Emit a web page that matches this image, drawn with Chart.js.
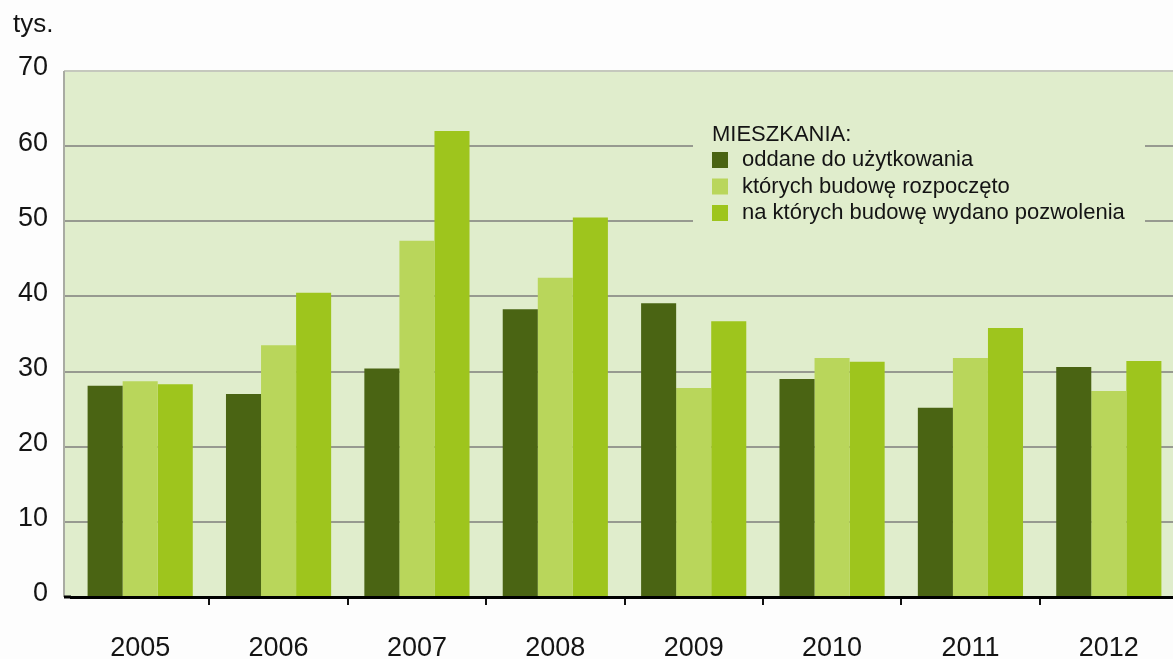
<!DOCTYPE html>
<html>
<head>
<meta charset="utf-8">
<script src="https://cdn.jsdelivr.net/npm/chart.js@4"></script>
<style>
  html, body { margin: 0; padding: 0; background: #fdfdfd; overflow: hidden; }
  #wrap { width: 1185px; height: 659px; }
</style>
</head>
<body>
<div id="wrap"><canvas id="myChart" width="1185" height="659"></canvas></div>
<script>
// data (thousands)
const years = ['2005', '2006', '2007', '2008', '2009', '2010', '2011', '2012'];
const oddane = [28.1, 27.0, 30.4, 38.3, 39.1, 29.0, 25.2, 30.6];
const rozpoczete = [28.7, 33.5, 47.4, 42.5, 27.8, 31.8, 31.8, 27.4];
const pozwolenia = [28.3, 40.5, 62.0, 50.5, 36.7, 31.3, 35.8, 31.4];
const yTicks = [0, 10, 20, 30, 40, 50, 60, 70];

const seriesNames = ['oddane do użytkowania', 'których budowę rozpoczęto', 'na których budowę wydano pozwolenia'];
const colors = ['#4a6413', '#b9d65b', '#9ec51d'];

const FONT = "'Liberation Sans', Arial, sans-serif";
const textCol = '#141414';
const plotBg = '#e0edcc';
const gridCol = '#979a90';

// background, left border and little grid stubs left of the chart area
const backdrop = {
  id: 'backdrop',
  beforeDraw(chart) {
    const { ctx, chartArea: a, scales: { y } } = chart;
    const left = 64;
    ctx.save();
    ctx.fillStyle = plotBg;
    ctx.fillRect(left, a.top, chart.width - left, a.bottom - a.top);
    ctx.strokeStyle = gridCol;
    ctx.lineWidth = 2;
    yTicks.forEach(v => {
      if (v === 0 || v === 70) return;
      const py = Math.round(y.getPixelForValue(v));
      ctx.beginPath();
      ctx.moveTo(left, py);
      ctx.lineTo(a.left, py);
      ctx.stroke();
    });
    // top + left border
    ctx.strokeStyle = '#c5c8bd';
    ctx.beginPath();
    ctx.moveTo(left, a.top);
    ctx.lineTo(chart.width, a.top);
    ctx.stroke();
    ctx.strokeStyle = '#a9aba3';
    ctx.beginPath();
    ctx.moveTo(left, a.top);
    ctx.lineTo(left, a.bottom);
    ctx.stroke();
    // unit label
    ctx.fillStyle = textCol;
    ctx.font = '26px ' + FONT;
    ctx.textBaseline = 'alphabetic';
    ctx.fillText('tys.', 13, 32);
    ctx.restore();
  },
  afterDraw(chart) {
    const { ctx, chartArea: a } = chart;
    ctx.save();
    ctx.strokeStyle = '#000';
    ctx.lineWidth = 3;
    ctx.beginPath();
    ctx.moveTo(64, a.bottom);
    ctx.lineTo(a.left, a.bottom);
    ctx.stroke();
    ctx.restore();
  }
};

// legend box in the top right of the plot
const boxLegend = {
  id: 'boxLegend',
  afterDatasetsDraw(chart) {
    const ctx = chart.ctx;
    ctx.save();
    ctx.fillStyle = plotBg;
    ctx.fillRect(693, 110, 452, 122);
    ctx.fillStyle = textCol;
    ctx.font = '22px ' + FONT;
    ctx.textBaseline = 'middle';
    ctx.fillText('MIESZKANIA:', 712, 135);
    chart.data.datasets.forEach((ds, i) => {
      const cy = 160 + i * 26.5;
      ctx.fillStyle = ds.backgroundColor;
      ctx.fillRect(712, cy - 8, 16, 16);
      ctx.fillStyle = textCol;
      ctx.fillText(ds.label, 742, cy);
    });
    ctx.restore();
  }
};

const ctx = document.getElementById('myChart').getContext('2d');
const myChart = new Chart(ctx, {
  type: 'bar',
  data: {
    labels: years,
    datasets: [
      { label: seriesNames[0], data: oddane, backgroundColor: colors[0] },
      { label: seriesNames[1], data: rozpoczete, backgroundColor: colors[1] },
      { label: seriesNames[2], data: pozwolenia, backgroundColor: colors[2] }
    ]
  },
  options: {
    responsive: false,
    animation: false,
    devicePixelRatio: 1,
    layout: { padding: { top: 71, right: 7, left: 0, bottom: 0 } },
    datasets: {
      bar: { barPercentage: 1, categoryPercentage: 0.76, borderWidth: 0 }
    },
    plugins: {
      legend: { display: false },
      tooltip: { enabled: false }
    },
    scales: {
      x: {
        afterFit(scale) { scale.height = 62; },
        grid: {
          offset: true,
          drawOnChartArea: false,
          tickLength: 8,
          lineWidth: 2,
          color: c => c.index === 0 ? 'rgba(0,0,0,0)' : '#111'
        },
        border: { display: true, color: '#000', width: 3 },
        ticks: {
          color: textCol,
          font: { family: FONT, size: 27 },
          padding: 27
        }
      },
      y: {
        min: 0,
        max: 70,
        afterFit(scale) { scale.width = 71; },
        afterBuildTicks(scale) { scale.ticks = yTicks.map(v => ({ value: v })); },
        grid: {
          drawTicks: false,
          lineWidth: 2,
          color: c => c.tick.value === 70 ? '#c5c8bd' : gridCol
        },
        border: { display: false },
        ticks: {
          color: textCol,
          font: { family: FONT, size: 27 },
          padding: 23,
          labelOffset: -3
        }
      }
    }
  },
  plugins: [backdrop, boxLegend]
});
</script>
</body>
</html>
